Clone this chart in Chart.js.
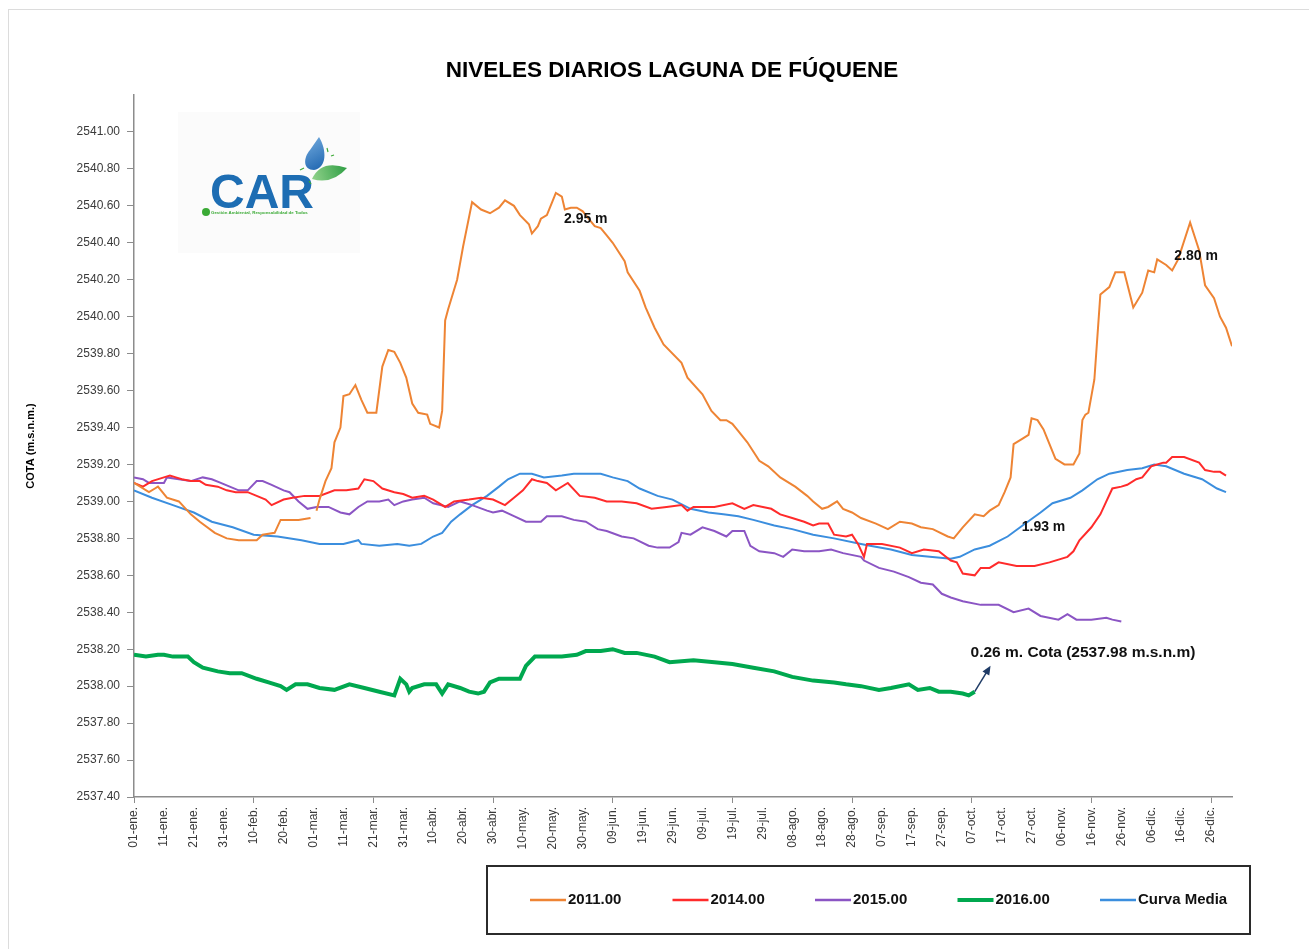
<!DOCTYPE html>
<html>
<head>
<meta charset="utf-8">
<script src="https://cdn.jsdelivr.net/npm/chart.js@4.4.1/dist/chart.umd.min.js"></script>
<style>
  body { margin: 0; background: #fff; }
  #wrap { width: 1309px; height: 949px; }
</style>
</head>
<body>
<div id="wrap"><canvas id="chart" width="1309" height="949"></canvas></div>
<script>
// etiquetas del eje x (cada 10 dias)
const dayLabels = ['01-ene.','11-ene.','21-ene.','31-ene.','10-feb.','20-feb.','01-mar.','11-mar.','21-mar.','31-mar.',
  '10-abr.','20-abr.','30-abr.','10-may.','20-may.','30-may.','09-jun.','19-jun.','29-jun.','09-jul.','19-jul.',
  '29-jul.','08-ago.','18-ago.','28-ago.','07-sep.','17-sep.','27-sep.','07-oct.','17-oct.','27-oct.','06-nov.',
  '16-nov.','26-nov.','06-dic.','16-dic.','26-dic.'];

// [dia del año, cota]
const s2011 = [[0,2539.10],[5,2539.05],[7,2539.07],[8,2539.08],[11,2539.02],[15,2539.00],[19,2538.93],[22,2538.89],
  [27,2538.83],[31,2538.80],[35,2538.79],[41,2538.79],[43,2538.82],[47,2538.83],[49,2538.90],[51,2538.90],[55,2538.90],
  [59,2538.91],[60,null],[61,2538.95],[62,2539.01],[64,2539.11],[66,2539.18],[67,2539.32],[69,2539.40],[70,2539.57],
  [72,2539.58],[74,2539.63],[76,2539.55],[78,2539.48],[81,2539.48],[83,2539.73],[85,2539.82],[87,2539.81],[89,2539.75],
  [91,2539.67],[93,2539.53],[95,2539.48],[98,2539.47],[99,2539.42],[102,2539.40],[103,2539.49],[104,2539.98],
  [105,2540.04],[108,2540.20],[110,2540.38],[113,2540.62],[116,2540.58],[119,2540.56],[122,2540.59],[124,2540.63],
  [127,2540.60],[129,2540.55],[132,2540.50],[133,2540.45],[135,2540.49],[136,2540.53],[138,2540.55],[140,2540.63],
  [141,2540.67],[143,2540.65],[144,2540.58],[146,2540.59],[148,2540.59],[150,2540.57],[152,2540.53],[154,2540.49],
  [156,2540.48],[158,2540.44],[160,2540.40],[164,2540.30],[165,2540.24],[169,2540.14],[171,2540.05],[174,2539.94],
  [177,2539.85],[183,2539.75],[185,2539.67],[190,2539.58],[193,2539.49],[196,2539.44],[198,2539.44],[200,2539.42],
  [202,2539.38],[205,2539.32],[207,2539.27],[209,2539.22],[212,2539.19],[216,2539.13],[221,2539.08],[225,2539.03],
  [227,2539.00],[230,2538.96],[232,2538.97],[235,2539.00],[237,2538.96],[240,2538.94],[243,2538.91],[248,2538.88],
  [252,2538.85],[256,2538.89],[260,2538.88],[263,2538.86],[267,2538.85],[272,2538.81],[274,2538.80],[277,2538.86],
  [281,2538.93],[284,2538.92],[286,2538.95],[289,2538.98],[291,2539.05],[293,2539.13],[294,2539.31],[297,2539.34],
  [299,2539.36],[300,2539.45],[302,2539.44],[304,2539.39],[306,2539.31],[308,2539.23],[311,2539.20],[314,2539.20],
  [316,2539.26],[317,2539.44],[318,2539.47],[319,2539.48],[321,2539.66],[323,2540.12],[326,2540.16],[328,2540.24],
  [331,2540.24],[334,2540.05],[337,2540.13],[339,2540.25],[341,2540.24],[342,2540.31],[345,2540.28],[347,2540.25],
  [349,2540.31],[353,2540.51],[356,2540.36],[358,2540.17],[361,2540.10],[363,2540.00],[365,2539.94],[367,2539.84]];

const s2014 = [[0,2539.10],[3,2539.08],[6,2539.11],[10,2539.13],[12,2539.14],[14,2539.13],[16,2539.12],[19,2539.11],
  [22,2539.11],[24,2539.09],[28,2539.08],[31,2539.06],[34,2539.05],[38,2539.05],[41,2539.03],[44,2539.01],[46,2538.98],
  [50,2539.01],[53,2539.02],[57,2539.03],[62,2539.03],[67,2539.06],[71,2539.06],[75,2539.07],[77,2539.12],[80,2539.11],
  [83,2539.07],[87,2539.05],[90,2539.04],[93,2539.02],[97,2539.03],[100,2539.01],[104,2538.97],[107,2539.00],
  [112,2539.01],[116,2539.02],[120,2539.01],[124,2538.98],[127,2539.02],[130,2539.06],[133,2539.12],[135,2539.11],
  [138,2539.10],[141,2539.06],[145,2539.10],[149,2539.03],[154,2539.02],[158,2539.00],[163,2539.00],[168,2538.99],
  [173,2538.96],[178,2538.97],[183,2538.98],[185,2538.95],[187,2538.97],[194,2538.97],[200,2538.99],[204,2538.96],
  [207,2538.98],[213,2538.96],[216,2538.93],[220,2538.91],[224,2538.89],[227,2538.87],[229,2538.88],[232,2538.88],
  [234,2538.82],[238,2538.81],[240,2538.82],[242,2538.77],[244,2538.70],[245,2538.77],[250,2538.77],[256,2538.75],
  [260,2538.72],[264,2538.74],[269,2538.73],[273,2538.68],[275,2538.67],[277,2538.61],[281,2538.60],[283,2538.64],
  [286,2538.64],[289,2538.67],[295,2538.65],[301,2538.65],[306,2538.67],[312,2538.70],[314,2538.73],[316,2538.79],
  [320,2538.86],[323,2538.93],[325,2539.00],[327,2539.07],[330,2539.08],[332,2539.09],[335,2539.12],[337,2539.13],
  [340,2539.19],[342,2539.20],[344,2539.21],[345,2539.21],[347,2539.24],[351,2539.24],[356,2539.21],[358,2539.17],
  [361,2539.16],[363,2539.16],[365,2539.14]];

const s2015 = [[0,2539.13],[3,2539.12],[5,2539.10],[10,2539.10],[11,2539.13],[15,2539.12],[19,2539.11],[23,2539.13],
  [26,2539.12],[29,2539.10],[32,2539.08],[35,2539.06],[38,2539.06],[41,2539.11],[43,2539.11],[46,2539.09],[50,2539.06],
  [52,2539.05],[55,2539.00],[58,2538.96],[61,2538.97],[65,2538.97],[69,2538.94],[72,2538.93],[75,2538.97],[78,2539.00],
  [82,2539.00],[85,2539.01],[87,2538.98],[90,2539.00],[93,2539.01],[97,2539.02],[100,2538.99],[105,2538.97],
  [109,2539.00],[113,2538.98],[118,2538.95],[120,2538.94],[123,2538.95],[127,2538.92],[131,2538.89],[136,2538.89],
  [138,2538.92],[143,2538.92],[147,2538.90],[151,2538.89],[155,2538.85],[158,2538.84],[163,2538.81],[167,2538.80],
  [172,2538.76],[175,2538.75],[179,2538.75],[182,2538.78],[183,2538.83],[186,2538.82],[190,2538.86],[194,2538.84],
  [198,2538.81],[200,2538.84],[204,2538.84],[206,2538.76],[209,2538.73],[214,2538.72],[217,2538.70],[220,2538.74],
  [224,2538.73],[229,2538.73],[233,2538.74],[237,2538.72],[243,2538.70],[244,2538.68],[249,2538.64],[254,2538.62],
  [259,2538.59],[263,2538.56],[267,2538.55],[270,2538.50],[273,2538.48],[277,2538.46],[283,2538.44],[289,2538.44],
  [294,2538.40],[299,2538.42],[303,2538.38],[309,2538.36],[312,2538.39],[315,2538.36],[320,2538.36],[325,2538.37],
  [327,2538.36],[330,2538.35]];

const s2016 = [[0,2538.17],[4,2538.16],[8,2538.17],[10,2538.17],[13,2538.16],[18,2538.16],[20,2538.13],[23,2538.10],
  [28,2538.08],[32,2538.07],[36,2538.07],[41,2538.04],[45,2538.02],[49,2538.00],[51,2537.98],[54,2538.01],[58,2538.01],
  [62,2537.99],[67,2537.98],[72,2538.01],[77,2537.99],[82,2537.97],[87,2537.95],[89,2538.04],[91,2538.01],[92,2537.97],
  [93,2537.99],[97,2538.01],[101,2538.01],[103,2537.96],[105,2538.01],[109,2537.99],[112,2537.97],[115,2537.96],
  [117,2537.97],[119,2538.02],[122,2538.04],[127,2538.04],[129,2538.04],[131,2538.11],[134,2538.16],[139,2538.16],
  [143,2538.16],[148,2538.17],[151,2538.19],[156,2538.19],[160,2538.20],[164,2538.18],[168,2538.18],[174,2538.16],
  [179,2538.13],[187,2538.14],[194,2538.13],[200,2538.12],[207,2538.10],[214,2538.08],[220,2538.05],[227,2538.03],
  [234,2538.02],[238,2538.01],[243,2538.00],[249,2537.98],[253,2537.99],[259,2538.01],[262,2537.98],[266,2537.99],
  [269,2537.97],[273,2537.97],[277,2537.96],[279,2537.95],[281,2537.97]];

const curvaMedia = [[0,2539.06],[6,2539.02],[13,2538.98],[20,2538.94],[26,2538.89],[33,2538.86],[40,2538.82],
  [48,2538.81],[56,2538.79],[62,2538.77],[70,2538.77],[75,2538.79],[76,2538.77],[82,2538.76],[88,2538.77],[92,2538.76],
  [96,2538.77],[100,2538.81],[103,2538.83],[106,2538.89],[109,2538.93],[113,2538.98],[118,2539.03],[122,2539.08],
  [125,2539.12],[129,2539.15],[133,2539.15],[137,2539.13],[143,2539.14],[147,2539.15],[153,2539.15],[156,2539.15],
  [160,2539.13],[165,2539.11],[169,2539.07],[175,2539.03],[180,2539.01],[186,2538.96],[192,2538.94],[197,2538.93],
  [202,2538.92],[207,2538.90],[214,2538.87],[220,2538.85],[227,2538.82],[234,2538.80],[243,2538.77],[246,2538.76],
  [253,2538.74],[260,2538.71],[266,2538.70],[273,2538.69],[276,2538.70],[281,2538.74],[286,2538.76],[292,2538.81],
  [297,2538.87],[303,2538.94],[307,2538.99],[313,2539.02],[317,2539.06],[322,2539.12],[326,2539.15],[332,2539.17],
  [337,2539.18],[341,2539.20],[345,2539.19],[351,2539.15],[357,2539.12],[362,2539.07],[365,2539.05]];

const seriesNames = ['2011.00', '2014.00', '2015.00', '2016.00', 'Curva Media'];

// notas sobre la grafica [dia, cota, texto]
const notes = [[151, 2540.53, '2.95 m'], [355, 2540.33, '2.80 m'], [304, 2538.86, '1.93 m']];
const cotaNote = [279.6, 2538.18, '0.26 m. Cota (2537.98 m.s.n.m)'];
const arrowFrom = [281, 2537.97];
const arrowTo = [286.3, 2538.11];

const toXY = arr => arr.map(p => ({ x: p[0], y: p[1] }));

function serie(label, data, color, width) {
    return {
        label: label,
        data: toXY(data),
        borderColor: color,
        backgroundColor: color,
        borderWidth: width,
        pointRadius: 0,
        tension: 0,
        fill: false,
        spanGaps: false
    };
}

// logo, titulo, leyenda y notas
const extras = {
    id: 'extras',
    beforeDraw(chart) {
        const ctx = chart.ctx;
        ctx.save();
        ctx.fillStyle = '#fff';
        ctx.fillRect(0, 0, chart.width, chart.height);
        ctx.strokeStyle = '#dcdcdc';
        ctx.lineWidth = 1;
        ctx.strokeRect(8.5, 9.5, 1310, 950);

        // logo CAR
        ctx.fillStyle = '#fbfbfb';
        ctx.fillRect(178, 112, 182, 141);
        ctx.fillStyle = '#1d6db3';
        ctx.font = 'bold 48px Arial';
        ctx.textBaseline = 'alphabetic';
        ctx.fillText('CAR', 210, 208);
        ctx.fillStyle = '#3aaa35';
        ctx.beginPath();
        ctx.arc(206, 212, 4, 0, Math.PI * 2);
        ctx.fill();
        ctx.font = 'bold 4.4px Arial';
        ctx.fillText('Gestión Ambiental, Responsabilidad de Todos', 211, 214);
        // gota
        const g = ctx.createLinearGradient(305, 140, 322, 170);
        g.addColorStop(0, '#6fa8dc');
        g.addColorStop(1, '#1f66b0');
        ctx.fillStyle = g;
        ctx.beginPath();
        ctx.moveTo(319, 137);
        ctx.bezierCurveTo(327, 150, 327, 168, 314, 170);
        ctx.bezierCurveTo(303, 170, 303, 158, 310, 150);
        ctx.closePath();
        ctx.fill();
        // hoja
        const h = ctx.createLinearGradient(312, 175, 346, 165);
        h.addColorStop(0, '#8fd18a');
        h.addColorStop(1, '#2f9e44');
        ctx.fillStyle = h;
        ctx.beginPath();
        ctx.moveTo(312, 179);
        ctx.quadraticCurveTo(321, 159, 347, 168);
        ctx.quadraticCurveTo(332, 185, 312, 179);
        ctx.closePath();
        ctx.fill();
        ctx.strokeStyle = '#3aaa35';
        ctx.lineWidth = 1.2;
        [[300, 170, 304, 168], [327, 148, 328, 152], [331, 156, 334, 155], [309, 181, 311, 184]].forEach(s => {
            ctx.beginPath(); ctx.moveTo(s[0], s[1]); ctx.lineTo(s[2], s[3]); ctx.stroke();
        });
        ctx.restore();
    },
    afterDraw(chart) {
        const ctx = chart.ctx;
        const xs = chart.scales.x, ys = chart.scales.y;
        ctx.save();

        // titulo
        ctx.fillStyle = '#000';
        ctx.font = 'bold 22.5px Arial';
        ctx.textAlign = 'center';
        ctx.textBaseline = 'middle';
        ctx.fillText('NIVELES DIARIOS LAGUNA DE FÚQUENE', 672, 71);

        // notas
        ctx.font = 'bold 14px Arial';
        ctx.fillStyle = '#111';
        notes.forEach(n => {
            ctx.fillText(n[2], xs.getPixelForValue(n[0]), ys.getPixelForValue(n[1]));
        });
        ctx.font = 'bold 15.5px Arial';
        ctx.textAlign = 'left';
        ctx.fillText(cotaNote[2], xs.getPixelForValue(cotaNote[0]), ys.getPixelForValue(cotaNote[1]));

        // flecha
        const x0 = xs.getPixelForValue(arrowFrom[0]), y0 = ys.getPixelForValue(arrowFrom[1]);
        const x1 = xs.getPixelForValue(arrowTo[0]), y1 = ys.getPixelForValue(arrowTo[1]);
        const ang = Math.atan2(y1 - y0, x1 - x0);
        ctx.strokeStyle = '#1f3b66';
        ctx.fillStyle = '#1f3b66';
        ctx.lineWidth = 1.5;
        ctx.beginPath();
        ctx.moveTo(x0, y0);
        ctx.lineTo(x1 - 6 * Math.cos(ang), y1 - 6 * Math.sin(ang));
        ctx.stroke();
        ctx.beginPath();
        ctx.moveTo(x1, y1);
        ctx.lineTo(x1 - 9 * Math.cos(ang) + 4 * Math.sin(ang), y1 - 9 * Math.sin(ang) - 4 * Math.cos(ang));
        ctx.lineTo(x1 - 9 * Math.cos(ang) - 4 * Math.sin(ang), y1 - 9 * Math.sin(ang) + 4 * Math.cos(ang));
        ctx.closePath();
        ctx.fill();

        // leyenda
        ctx.strokeStyle = '#2b2b2b';
        ctx.lineWidth = 2;
        ctx.strokeRect(487, 866, 763, 68);
        ctx.font = 'bold 15px Arial';
        ctx.textAlign = 'left';
        ctx.textBaseline = 'middle';
        chart.data.datasets.forEach((ds, i) => {
            const lx = 530 + i * 142.5, ly = 900;
            ctx.strokeStyle = ds.borderColor;
            ctx.lineWidth = ds.borderWidth === 4 ? 4 : 2.5;
            ctx.beginPath();
            ctx.moveTo(lx, ly);
            ctx.lineTo(lx + 36, ly);
            ctx.stroke();
            ctx.fillStyle = '#111';
            ctx.fillText(ds.label, lx + 38, ly);
        });
        ctx.restore();
    }
};

const ctx = document.getElementById('chart').getContext('2d');
const chart = new Chart(ctx, {
    type: 'line',
    data: {
        datasets: [
            serie(seriesNames[0], s2011, '#ee8434', 2),
            serie(seriesNames[1], s2014, '#ff2b2b', 2),
            serie(seriesNames[2], s2015, '#8b55c4', 2),
            serie(seriesNames[3], s2016, '#00a84f', 4),
            serie(seriesNames[4], curvaMedia, '#3b8ede', 2)
        ]
    },
    options: {
        responsive: false,
        animation: false,
        layout: { padding: { left: 20, top: 95, right: 77, bottom: 100 } },
        plugins: {
            legend: { display: false },
            tooltip: { enabled: false },
            title: { display: false }
        },
        scales: {
            x: {
                type: 'linear',
                min: 0,
                max: 367,
                afterFit: s => { s.height = 52; },
                border: { color: '#8c8c8c', width: 1.5 },
                grid: {
                    drawOnChartArea: false,
                    tickLength: 6,
                    tickColor: c => (c.tick && c.tick.value % 40 === 0) ? '#8c8c8c' : 'rgba(0,0,0,0)'
                },
                ticks: {
                    stepSize: 10,
                    includeBounds: false,
                    autoSkip: false,
                    maxRotation: 90,
                    minRotation: 90,
                    padding: 4,
                    color: '#3a3a3a',
                    font: { family: 'Arial', size: 12 },
                    callback: v => dayLabels[Math.round(v / 10)] || ''
                }
            },
            y: {
                min: 2537.4,
                max: 2541.2,
                afterFit: s => { s.width = 114; },
                border: { color: '#8c8c8c', width: 1.5 },
                grid: {
                    drawOnChartArea: false,
                    tickLength: 7,
                    tickColor: c => (c.tick && c.tick.value > 2541.1) ? 'rgba(0,0,0,0)' : '#8c8c8c'
                },
                title: {
                    display: true,
                    text: 'COTA (m.s.n.m.)',
                    color: '#000',
                    font: { family: 'Arial', size: 11, weight: 'bold' }
                },
                ticks: {
                    stepSize: 0.2,
                    padding: 7,
                    color: '#3a3a3a',
                    font: { family: 'Arial', size: 12 },
                    callback: v => (Math.abs(v - 2541.2) < 0.001 ? '' : v.toFixed(2))
                }
            }
        }
    },
    plugins: [extras]
});
</script>
</body>
</html>
